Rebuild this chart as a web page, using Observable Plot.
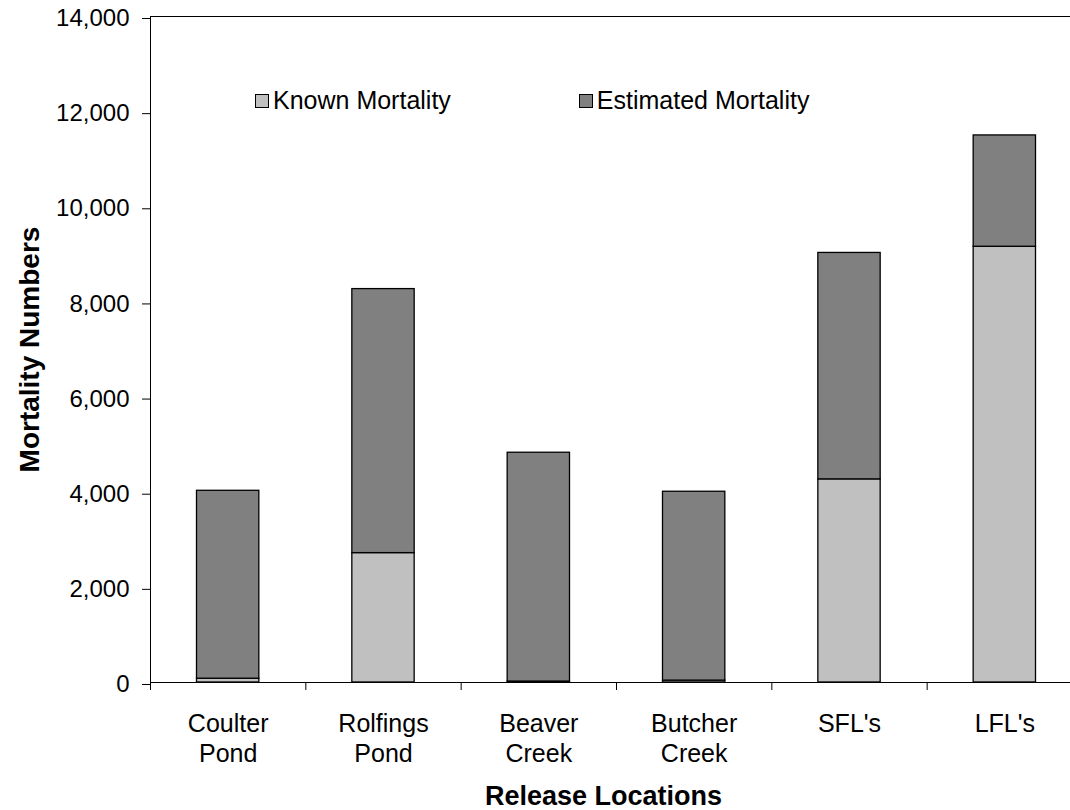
<!DOCTYPE html>
<html>
<head>
<meta charset="utf-8">
<script src="https://cdn.jsdelivr.net/npm/d3@7"></script>
<script src="https://cdn.jsdelivr.net/npm/@observablehq/plot@0.6"></script>
<style>
  html, body { margin: 0; padding: 0; background: #fff; }
  #chart { position: relative; width: 1070px; height: 810px; overflow: hidden; font-family: "Liberation Sans", Arial, sans-serif; }
  #chart svg { overflow: hidden; }
  .legend { position: absolute; top: 86px; left: 255px; display: flex; font-size: 25px; color: #000; }
  .legend .item { display: flex; align-items: center; }
  .legend .swatch { width: 14px; height: 14px; border: 1px solid #000; margin-right: 4px; box-sizing: border-box; }
</style>
</head>
<body>
<div id="chart"></div>
<script>
// Release locations (two-line labels) and mortality counts per location
const locations = ["Coulter\nPond", "Rolfings\nPond", "Beaver\nCreek", "Butcher\nCreek", "SFL's", "LFL's"];
const knownMortality = [80, 2720, 20, 40, 4270, 9160];
const estimatedMortality = [3950, 5550, 4810, 3970, 4760, 2340];
const seriesNames = ["Known Mortality", "Estimated Mortality"];
const seriesColors = ["#c0c0c0", "#808080"];
const yTicks = [0, 2000, 4000, 6000, 8000, 10000, 12000, 14000];

// Stacked segments: known at the bottom, estimated on top
const segments = [];
locations.forEach((loc, i) => {
  segments.push({i, series: seriesNames[0], y1: 0, y2: knownMortality[i]});
  segments.push({i, series: seriesNames[1], y1: knownMortality[i], y2: knownMortality[i] + estimatedMortality[i]});
});

const fmt = d3.format(",");

const plot = Plot.plot({
  width: 1070,
  height: 810,
  marginTop: 16,
  marginBottom: 128,
  marginLeft: 150,
  marginRight: 0,
  style: {fontFamily: "'Liberation Sans', Arial, sans-serif", fontSize: "24px", color: "#000", background: "#fff"},
  x: {type: "linear", domain: [0, locations.length], range: [150, 1082]},
  y: {domain: [0, 14000]},
  color: {domain: seriesNames, range: seriesColors},
  marks: [
    Plot.rectY(segments, {
      x1: "i", x2: d => d.i + 1, y1: "y1", y2: "y2",
      fill: "series", stroke: "#000", strokeWidth: 1.3,
      insetLeft: 46.5, insetRight: 46.5
    }),
    Plot.axisY({ticks: yTicks, tickFormat: fmt, tickSize: 8, tickPadding: 13, dy: 2, label: null, fontSize: 24, stroke: "#000"}),
    Plot.axisX({ticks: d3.range(0, locations.length + 1), tickFormat: () => "", tickSize: 8, label: null, stroke: "#000"}),
    Plot.ruleX([0], {stroke: "#000"}),
    Plot.ruleY([0], {stroke: "#000"}),
    Plot.ruleY([14000], {stroke: "#000"}),
    Plot.text(locations, {
      x: (d, i) => i + 0.5, frameAnchor: "bottom", lineAnchor: "top",
      dy: 28, fontSize: 25, lineHeight: 1.2, fill: "#000"
    }),
    Plot.text(["Release Locations"], {
      frameAnchor: "bottom", dx: -7, dy: 114, lineAnchor: "middle",
      fontSize: 27, fontWeight: "bold", fill: "#000"
    }),
    Plot.text(["Mortality Numbers"], {
      frameAnchor: "left", dx: -120, rotate: -90, textAnchor: "middle",
      fontSize: 28, fontWeight: "bold", fill: "#000"
    })
  ]
});

const chart = document.getElementById("chart");
chart.appendChild(plot);

// Legend placed inside the plotting area
const legend = document.createElement("div");
legend.className = "legend";
seriesNames.forEach((name, k) => {
  const item = document.createElement("div");
  item.className = "item";
  if (k > 0) item.style.marginLeft = "128px";
  const sw = document.createElement("span");
  sw.className = "swatch";
  sw.style.background = seriesColors[k];
  const label = document.createElement("span");
  label.textContent = name;
  item.appendChild(sw);
  item.appendChild(label);
  legend.appendChild(item);
});
chart.appendChild(legend);
</script>
</body>
</html>
